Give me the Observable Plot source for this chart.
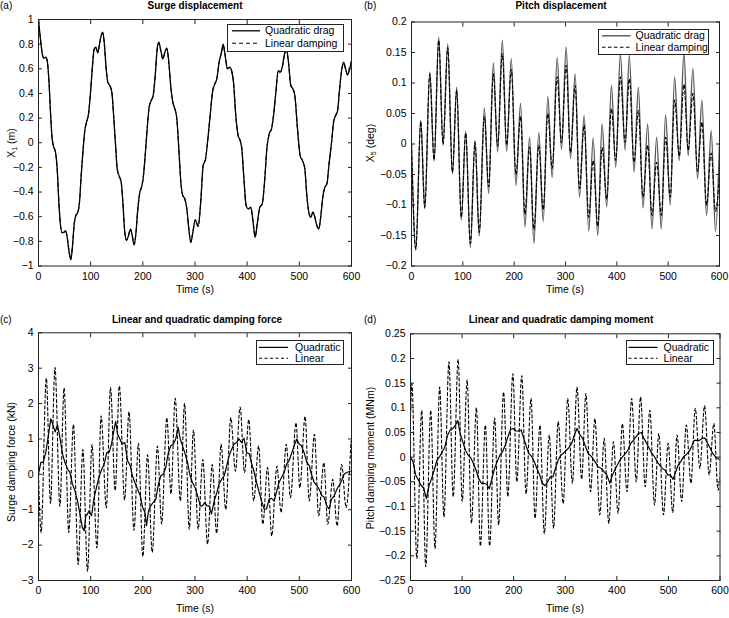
<!DOCTYPE html>
<html><head><meta charset="utf-8">
<script src="https://cdn.jsdelivr.net/npm/d3@7"></script>
<script src="https://cdn.jsdelivr.net/npm/@observablehq/plot@0.6"></script>
<style>
body{margin:0;background:#fff;}
#root{position:relative;width:729px;height:618px;overflow:hidden;font-family:"Liberation Sans",Arial,Helvetica,sans-serif;color:#000;background:#fff;}
.t{position:absolute;white-space:nowrap;font-size:10px;line-height:1;}
.t sub{font-size:7px;vertical-align:-2px;line-height:0;}
.legend{position:absolute;border:1px solid #222;background:#fff;box-sizing:border-box;}
</style></head><body><div id="root"></div>
<script>
// ---------- tick values ----------
const xTicks = [0, 100, 200, 300, 400, 500, 600];
const surgeTicks = [-1, -0.8, -0.6, -0.4, -0.2, 0, 0.2, 0.4, 0.6, 0.8, 1];
const pitchTicks = [-0.2, -0.15, -0.1, -0.05, 0, 0.05, 0.1, 0.15, 0.2];
const forceTicks = [-3, -2, -1, 0, 1, 2, 3, 4];
const momentTicks = [-0.25, -0.2, -0.15, -0.1, -0.05, 0, 0.05, 0.1, 0.15, 0.2, 0.25];

// ---------- (a) surge displacement [t, value] ----------
const surgeQuadPts = [[0,1.0],[3.8,0.84],[7.7,0.71],[10,0.686],[14,0.694],[16.6,0.667],[19.8,0.518],[23,0.248],[26.2,0.031],[29.4,-0.037],[32.6,-0.077],[35.8,-0.21],[39,-0.48],[42.2,-0.67],[45.4,-0.73],[48.6,-0.727],[51.8,-0.713],[55,-0.767],[58.8,-0.89],[62,-0.95],[65.2,-0.835],[68.4,-0.66],[71.6,-0.59],[75.4,-0.565],[78.6,-0.48],[81.8,-0.267],[85.6,-0.05],[88.8,0.1],[92,0.166],[95.9,0.234],[99.7,0.41],[103.5,0.626],[106.7,0.76],[110,0.775],[113.7,0.73],[117,0.8],[120,0.87],[123.3,0.897],[126.5,0.79],[129.7,0.6],[133,0.49],[136.7,0.464],[140.6,0.41],[144.4,0.194],[148.2,-0.05],[150.8,-0.21],[154.6,-0.27],[158.5,-0.32],[161.7,-0.48],[164.9,-0.7],[168.7,-0.794],[172.5,-0.754],[176.4,-0.70],[179.6,-0.754],[183.4,-0.83],[186.6,-0.74],[190.4,-0.537],[194.3,-0.40],[197.5,-0.36],[200.6,-0.29],[204.5,-0.104],[208.3,0.112],[212.1,0.288],[216,0.342],[219.8,0.383],[223.7,0.545],[227.5,0.762],[230.7,0.816],[234.5,0.748],[238.3,0.68],[242.2,0.735],[246,0.77],[249.8,0.653],[253.7,0.45],[257.5,0.33],[261.4,0.275],[265.2,0.194],[269,-0.05],[272.9,-0.32],[276.7,-0.43],[280.5,-0.456],[284.4,-0.537],[288.2,-0.70],[292,-0.81],[295.9,-0.727],[300.5,-0.625],[306,-0.68],[311,-0.48],[315.6,-0.185],[320,-0.137],[324,0.004],[329,0.22],[333.5,0.41],[338,0.478],[341.8,0.518],[346.3,0.654],[350.8,0.735],[354,0.80],[357.8,0.71],[362.2,0.60],[366.8,0.613],[370,0.586],[373.8,0.49],[378.2,0.22],[382.7,0.058],[386.6,0.018],[389.8,-0.05],[394.2,-0.32],[398,-0.51],[402.5,-0.537],[407,-0.524],[411.4,-0.645],[415.3,-0.767],[419.7,-0.645],[424.2,-0.524],[428.8,-0.497],[433.3,-0.32],[437.7,-0.05],[442.2,0.072],[446.7,0.112],[450.5,0.22],[455,0.41],[459.5,0.586],[463.4,0.575],[467.2,0.613],[471,0.71],[475.4,0.76],[479.2,0.654],[483.7,0.464],[487.6,0.437],[491.4,0.383],[496.5,0.112],[501.6,-0.104],[506,-0.145],[510.5,-0.21],[514.4,-0.43],[518.8,-0.578],[522,-0.605],[525.9,-0.564],[529.7,-0.605],[533.6,-0.673],[537.4,-0.70],[541.3,-0.59],[545,-0.44],[549,-0.36],[552.8,-0.334],[557.3,-0.158],[561.8,0.004],[565.6,0.166],[569.5,0.22],[573.3,0.26],[577.2,0.437],[581,0.586],[584.9,0.654],[588.7,0.60],[592.5,0.55],[596.4,0.60],[600,0.667]];
const surgeLinPts = [[0,1.0],[3.8,0.84],[7.7,0.71],[10,0.686],[14,0.694],[16.6,0.667],[19.8,0.518],[23,0.248],[26.2,0.031],[29.4,-0.037],[32.6,-0.077],[35.8,-0.21],[39,-0.48],[42.2,-0.67],[45.4,-0.73],[48.6,-0.725],[51.8,-0.712],[55,-0.765],[58.8,-0.888],[62,-0.945],[65.2,-0.833],[68.4,-0.66],[71.6,-0.59],[75.4,-0.565],[78.6,-0.48],[81.8,-0.267],[85.6,-0.05],[88.8,0.1],[92,0.166],[95.9,0.234],[99.7,0.41],[103.5,0.626],[106.7,0.758],[110,0.772],[113.7,0.73],[117,0.797],[120,0.865],[123.3,0.888],[126.5,0.785],[129.7,0.6],[133,0.49],[136.7,0.464],[140.6,0.41],[144.4,0.194],[148.2,-0.05],[150.8,-0.21],[154.6,-0.27],[158.5,-0.32],[161.7,-0.48],[164.9,-0.7],[168.7,-0.79],[172.5,-0.752],[176.4,-0.70],[179.6,-0.752],[183.4,-0.825],[186.6,-0.74],[190.4,-0.537],[194.3,-0.40],[197.5,-0.36],[200.6,-0.29],[204.5,-0.104],[208.3,0.112],[212.1,0.288],[216,0.342],[219.8,0.383],[223.7,0.545],[227.5,0.76],[230.7,0.81],[234.5,0.745],[238.3,0.68],[242.2,0.732],[246,0.765],[249.8,0.65],[253.7,0.45],[257.5,0.33],[261.4,0.275],[265.2,0.194],[269,-0.05],[272.9,-0.32],[276.7,-0.43],[280.5,-0.456],[284.4,-0.537],[288.2,-0.70],[292,-0.805],[295.9,-0.725],[300.5,-0.625],[306,-0.678],[311,-0.48],[315.6,-0.185],[320,-0.137],[324,0.004],[329,0.22],[333.5,0.41],[338,0.478],[341.8,0.518],[346.3,0.652],[350.8,0.73],[354,0.79],[357.8,0.705],[362.2,0.6],[366.8,0.61],[370,0.588],[373.8,0.49],[378.2,0.22],[382.7,0.058],[386.6,0.018],[389.8,-0.05],[394.2,-0.32],[398,-0.51],[402.5,-0.537],[407,-0.524],[411.4,-0.643],[415.3,-0.762],[419.7,-0.643],[424.2,-0.524],[428.8,-0.497],[433.3,-0.32],[437.7,-0.05],[442.2,0.072],[446.7,0.112],[450.5,0.22],[455,0.41],[459.5,0.58],[463.4,0.572],[467.2,0.605],[471,0.70],[475.4,0.745],[479.2,0.648],[483.7,0.464],[487.6,0.437],[491.4,0.383],[496.5,0.112],[501.6,-0.104],[506,-0.145],[510.5,-0.21],[514.4,-0.43],[518.8,-0.575],[522,-0.6],[525.9,-0.562],[529.7,-0.6],[533.6,-0.668],[537.4,-0.695],[541.3,-0.59],[545,-0.44],[549,-0.36],[552.8,-0.334],[557.3,-0.158],[561.8,0.004],[565.6,0.166],[569.5,0.22],[573.3,0.26],[577.2,0.437],[581,0.58],[584.9,0.645],[588.7,0.597],[592.5,0.552],[596.4,0.598],[600,0.66]];

// ---------- (b) pitch displacement: extrema times and values ----------
const pitchT = [0,8.4,18,25.8,35.6,44,53,61.5,70.6,79.7,88,97,105.6,114.7,123.7,132,141.9,150.3,159.4,167.8,176.9,185.3,194.4,203.4,212.5,220.9,230,238.4,248,256.6,265.6,274,283.8,292.2,301.3,309.7,318.8,327.2,336.3,345.3,353.8,362.8,371.3,380.3,389.4,397.8,406.9,416,424.4,433.5,441.9,451,460,468.5,477.5,486.6,495,504,512.5,521.6,530.7,539,548.2,557.2,565.7,574.7,583.8,592.2,600];
const pitchQuad = [0,-0.174,0.039,-0.106,0.118,-0.028,0.175,-0.002,0.164,-0.049,0.093,-0.125,0.021,-0.170,0.006,-0.151,0.059,-0.081,0.133,-0.013,0.170,-0.012,0.140,-0.068,0.067,-0.136,0.011,-0.163,0.019,-0.127,0.078,-0.055,0.142,-0.009,0.159,-0.024,0.115,-0.087,0.047,-0.143,0.010,-0.150,0.033,-0.103,0.096,-0.038,0.148,-0.010,0.145,-0.046,0.093,-0.105,0.033,-0.139,0.011,-0.139,0.048,-0.100,0.110,-0.027,0.150,-0.019,0.124,-0.057,0.072,-0.117,0.022,-0.143,0.0];
const pitchLin = [0,-0.172,0.037,-0.104,0.115,-0.026,0.170,0.000,0.158,-0.046,0.088,-0.120,0.018,-0.163,0.003,-0.145,0.045,-0.070,0.115,-0.003,0.148,-0.002,0.122,-0.050,0.045,-0.115,-0.005,-0.140,-0.002,-0.108,0.050,-0.040,0.110,0.002,0.129,-0.014,0.096,-0.073,0.031,-0.120,-0.027,-0.135,-0.006,-0.090,0.058,-0.027,0.110,0.003,0.107,-0.030,0.055,-0.087,-0.002,-0.117,-0.030,-0.117,0.011,-0.087,0.072,-0.020,0.098,-0.010,0.083,-0.045,0.036,-0.100,-0.015,-0.110,-0.050];

// ---------- (c) surge damping force ----------
const forceQuadPts = [[0,0],[4.5,0.34],[9,0.34],[14,0.62],[18.5,1.05],[23.6,1.57],[28,1.38],[32,1.2],[36.4,1.4],[41.5,1.0],[46,0.58],[50.5,0.34],[55.6,0.15],[60,0.06],[65,-0.27],[69.7,-0.46],[74.8,-0.75],[79,-1.08],[84,-1.5],[87.5,-1.59],[90.7,-1.17],[94,-1.12],[97,-1.03],[101.6,-1.17],[106.7,-0.65],[112,-0.32],[116,-0.08],[121.4,0.15],[126,0.29],[131,0.62],[135.5,0.62],[140,0.86],[145,1.28],[148,1.5],[151.5,1.14],[156,1.0],[160.4,0.86],[165.5,0.9],[170.6,0.39],[175.7,0.25],[180,-0.04],[184.7,-0.23],[190,-0.42],[195,-0.6],[199.4,-0.93],[204,-1.08],[207,-1.45],[211,-1.03],[215,-0.89],[220,-0.79],[225,-0.7],[230,-0.27],[234.5,-0.04],[239.6,0.01],[244,0.2],[249,0.62],[253.7,0.81],[258.8,0.86],[263,1.0],[267.7,1.33],[271.6,1.0],[276,0.81],[281,0.58],[285.6,0.34],[290.7,-0.04],[295,-0.23],[300,-0.37],[305,-0.6],[310,-0.89],[314,-0.89],[319,-0.79],[322.7,-0.89],[327,-0.89],[331.6,-1.12],[336.8,-0.75],[342,-0.51],[346,-0.27],[351.5,-0.13],[356,-0.04],[361,0.25],[365.5,0.53],[370.6,0.72],[375,0.86],[379.6,0.9],[384.7,1.0],[389,0.9],[394,1.02],[399,0.62],[404,0.58],[408,0.34],[413.4,0.06],[418,-0.23],[423,-0.51],[427.5,-0.75],[432.6,-0.98],[437,-0.98],[442,-0.7],[446.7,-0.68],[451.8,-0.75],[456,-0.51],[461,-0.23],[466,-0.08],[471,0.06],[475.4,0.29],[480.5,0.39],[485,0.58],[490,0.81],[495,1.0],[499.7,0.86],[504,0.81],[509,0.62],[514.4,0.34],[519,0.25],[523,0.01],[528.5,-0.23],[533.6,-0.32],[538,-0.42],[543,-0.6],[547.6,-0.65],[552.7,-0.89],[557,-0.98],[561.7,-0.7],[567,-0.6],[572,-0.42],[576,-0.32],[581,-0.18],[586,0.01],[592,0.06],[600,0.1]];
const forceLinT = [0,5,15,23,31.6,41,49,58,67,76,85,94,102.5,112,120,130,138,147,155,165,173.5,183,191.6,200,209,218,228,236,246,254,262,272,280,289,297,306,315,324,333,341.5,350,359,368.6,377.5,386.5,395,403,412.5,422,430,439,447,457,465,475,483,493.6,501,511,519,529,537,547,554.5,564,572.5,581,589.7,599];
const forceLin = [0,-1.64,2.72,-0.82,3.02,-0.9,2.44,-1.64,1.41,-2.55,0.7,-2.74,0.84,-2.08,1.65,-0.95,2.45,-0.46,2.5,-0.72,1.77,-1.58,0.88,-2.32,0.55,-2.2,0.8,-1.4,1.6,-0.56,2.15,-0.75,2.0,-1.55,1.25,-1.55,0.42,-1.97,0.28,-1.67,0.85,-0.99,1.6,0.09,1.9,0.05,1.55,-0.75,0.8,-1.41,0.19,-1.74,0.23,-1.08,0.85,-0.66,1.46,-0.38,1.64,-0.75,1.13,-1.17,0.33,-1.41,-0.14,-1.46,0.28,-0.94,0.94];

// ---------- (d) pitch damping moment ----------
const momentQuadPts = [[0,0],[5,-0.01],[10,-0.036],[15.4,-0.047],[20.5,-0.057],[25.7,-0.063],[30.8,-0.084],[36,-0.057],[41,-0.043],[46,-0.026],[51.4,-0.006],[56.5,0.001],[61.6,0.011],[66.8,0.021],[72,0.045],[77,0.055],[82,0.058],[87.3,0.065],[91.8,0.074],[96.3,0.048],[101.4,0.031],[106.6,0.014],[111.7,0.004],[116.8,-0.001],[122,-0.013],[127,-0.026],[132,-0.043],[137.4,-0.053],[142.5,-0.053],[147.7,-0.055],[152.8,-0.064],[158,-0.043],[163,-0.023],[168,-0.009],[173.3,0.004],[178.5,0.011],[183.6,0.024],[188.7,0.041],[194,0.056],[199,0.058],[204,0.053],[209.3,0.053],[214.4,0.055],[219.6,0.038],[224.7,0.021],[229.8,0.007],[235,0.001],[240,-0.009],[245,-0.023],[250.4,-0.036],[255.5,-0.053],[260.7,-0.058],[265.8,-0.05],[271,-0.04],[276,-0.04],[281,-0.023],[286.3,-0.006],[291.5,0.004],[296.6,0.008],[306,0.018],[312.5,0.028],[317.7,0.045],[322.8,0.058],[328.6,0.045],[333.7,0.038],[339.5,0.021],[344.6,0.007],[351,0.001],[357.5,-0.009],[364,-0.02],[370,-0.023],[375.4,-0.03],[380.6,-0.036],[386.4,-0.053],[391.5,-0.036],[396,-0.026],[401,-0.016],[406,-0.006],[411.4,0.001],[416.5,0.007],[421.7,0.014],[426.8,0.028],[432,0.034],[437,0.041],[442,0.048],[447.3,0.05],[452.5,0.038],[457.6,0.028],[462.7,0.018],[468,0.007],[473,0.001],[478,-0.009],[483,-0.016],[488,-0.023],[493.5,-0.026],[498.6,-0.036],[503.8,-0.036],[509,-0.045],[514,-0.03],[519,-0.016],[524,-0.009],[529.3,0.001],[534.4,0.005],[539.7,0.011],[544.7,0.021],[550,0.034],[555,0.034],[560,0.034],[565.5,0.038],[570.5,0.039],[575.8,0.028],[581,0.018],[586,0.007],[591,0.001],[596,-0.003],[600,-0.006]];
const momentLinPts = [[0,0.08],[2.6,0.149],[12.2,-0.205],[21.8,0.095],[29.5,-0.222],[39.2,0.095],[47.5,-0.185],[56.5,0.142],[64.8,-0.121],[74.5,0.193],[82.8,-0.08],[92.4,0.198],[100.2,-0.09],[109.8,0.156],[118.1,-0.134],[127.8,0.1],[135.5,-0.18],[145.1,0.065],[153.4,-0.18],[163.1,0.08],[170.8,-0.137],[180.4,0.132],[188.7,-0.08],[198.4,0.169],[206.1,-0.05],[215.7,0.165],[224,-0.074],[233.7,0.119],[241.4,-0.124],[251,0.065],[259.4,-0.155],[269,0.045],[277.3,-0.144],[286.3,0.072],[296,-0.094],[304.8,0.119],[313.8,-0.053],[322.8,0.142],[331.8,-0.045],[340,0.129],[349,-0.07],[357.5,0.078],[367,-0.117],[375.4,0.038],[384.4,-0.134],[393.4,0.031],[402.4,-0.114],[410.7,0.068],[419.7,-0.07],[428.7,0.119],[437.7,-0.05],[446,0.122],[455,-0.06],[464,0.095],[473,-0.097],[481.4,0.048],[490.4,-0.117],[499.4,0.028],[508.4,-0.112],[516.8,0.045],[525.7,-0.09],[534.7,0.065],[543.7,-0.053],[552,0.099],[561,-0.023],[570,0.104],[579,-0.036],[588,0.068],[596.3,-0.067],[600,-0.03]];

// ---------- helpers ----------
const FONT = '"Liberation Sans", Arial, Helvetica, sans-serif';
const root = document.getElementById("root");
const fmt = v => (v < -1e-9 ? "\u2212" : "") + String(Math.round(Math.abs(v) * 1000) / 1000);
const blank = () => "";

function txt(html, x, y, {anchor = "middle", bold = false, rotate = false, size = 10} = {}) {
  const d = document.createElement("div");
  d.className = "t";
  d.innerHTML = html;
  d.style.left = x + "px";
  d.style.top = y + "px";
  d.style.fontSize = size + "px";
  if (bold) d.style.fontWeight = "bold";
  const tx = anchor === "start" ? "0" : anchor === "end" ? "-100%" : "-50%";
  d.style.transform = `translate(${tx},-50%)` + (rotate ? " rotate(-90deg)" : "");
  root.appendChild(d);
}

function legend(x, y, w, h, rows) {
  const box = document.createElement("div");
  box.className = "legend";
  Object.assign(box.style, {left: x + "px", top: y + "px", width: w + "px", height: h + "px"});
  let s = `<svg width="${w}" height="${h}" style="position:absolute;left:-1px;top:-1px;overflow:visible">`;
  for (const r of rows) {
    s += `<line x1="${r.x1}" x2="${r.x2}" y1="${r.y}" y2="${r.y}" stroke="${r.color}" stroke-width="${r.sw}" ${r.dash ? `stroke-dasharray="${r.dash}"` : ""}/>`;
    s += `<text x="${r.tx}" y="${r.y}" dy="0.35em" font-size="10.5" font-family='${FONT}' fill="#000">${r.label}</text>`;
  }
  s += "</svg>";
  box.innerHTML = s;
  root.appendChild(box);
}

function panel({left, top, width, height, mt, mr, mb, ml, ydomain, yticks, marks}) {
  const svg = Plot.plot({
    width, height, marginTop: mt, marginRight: mr, marginBottom: mb, marginLeft: ml,
    x: {domain: [0, 600]}, y: {domain: ydomain},
    style: {fontSize: "10.5px", fontFamily: FONT, color: "#000", background: "transparent", overflow: "visible"},
    marks: [
      ...marks,
      Plot.frame({stroke: "#222", strokeWidth: 1}),
      Plot.axisX({ticks: xTicks, tickSize: -4, tickPadding: 10.5, tickFormat: fmt, label: null, stroke: "#222"}),
      Plot.axisX({anchor: "top", ticks: xTicks, tickSize: -4, tickFormat: blank, label: null, stroke: "#222"}),
      Plot.axisY({ticks: yticks, tickSize: -4, tickPadding: 9, tickFormat: fmt, label: null, stroke: "#222"}),
      Plot.axisY({anchor: "right", ticks: yticks, tickSize: -4, tickFormat: blank, label: null, stroke: "#222"})
    ]
  });
  svg.style.position = "absolute";
  svg.style.left = left + "px";
  svg.style.top = top + "px";
  root.appendChild(svg);
}

const px = d => d[0], py = d => d[1];

// (a)
panel({left: 0, top: 0, width: 364, height: 300, mt: 19, mr: 13, mb: 34.5, ml: 38,
  ydomain: [-1, 1], yticks: surgeTicks,
  marks: [
    Plot.line(surgeQuadPts, {x: px, y: py, curve: "monotone-x", stroke: "#000", strokeWidth: 1.3, clip: true}),
    Plot.line(surgeLinPts, {x: px, y: py, curve: "monotone-x", stroke: "#000", strokeWidth: 1.1, strokeDasharray: "4,3", clip: true})
  ]});
// (b)
panel({left: 364, top: 0, width: 365, height: 300, mt: 21.5, mr: 10, mb: 34.5, ml: 47,
  ydomain: [-0.2, 0.2], yticks: pitchTicks,
  marks: [
    Plot.line(pitchQuad, {x: pitchT, y: pitchQuad, curve: "monotone-x", stroke: "#555", strokeWidth: 1.4, clip: true}),
    Plot.line(pitchLin, {x: pitchT, y: pitchLin, curve: "monotone-x", stroke: "#000", strokeWidth: 1.1, strokeDasharray: "3.5,2.5", clip: true})
  ]});
// (c)
panel({left: 0, top: 305, width: 364, height: 313, mt: 27.3, mr: 13, mb: 38, ml: 38,
  ydomain: [-3, 4], yticks: forceTicks,
  marks: [
    Plot.line(forceLin, {x: forceLinT, y: forceLin, curve: "monotone-x", stroke: "#000", strokeWidth: 1.1, strokeDasharray: "3,2.5", clip: true}),
    Plot.line(forceQuadPts, {x: px, y: py, stroke: "#000", strokeWidth: 1.2, clip: true})
  ]});
// (d)
panel({left: 364, top: 305, width: 365, height: 313, mt: 28.3, mr: 9.5, mb: 38, ml: 46,
  ydomain: [-0.25, 0.25], yticks: momentTicks,
  marks: [
    Plot.line(momentLinPts, {x: px, y: py, curve: "monotone-x", stroke: "#000", strokeWidth: 1.1, strokeDasharray: "3,2.5", clip: true}),
    Plot.line(momentQuadPts, {x: px, y: py, stroke: "#000", strokeWidth: 1.2, clip: true})
  ]});

// titles, panel letters, axis labels
txt("(a)", 0, 6, {anchor: "start"});
txt("(b)", 364, 6, {anchor: "start"});
txt("(c)", 0, 320, {anchor: "start"});
txt("(d)", 364, 320, {anchor: "start"});
txt("Surge displacement", 195, 6, {bold: true});
txt("Pitch displacement", 561, 6, {bold: true});
txt("Linear and quadratic damping force", 197, 320, {bold: true});
txt("Linear and quadratic damping moment", 561, 320, {bold: true});
txt("Time (s)", 195, 289, {size: 10.5});
txt("Time (s)", 565, 289, {size: 10.5});
txt("Time (s)", 195, 608, {size: 10.5});
txt("Time (s)", 565, 608, {size: 10.5});
txt("X<sub>1</sub> (m)", 11, 143, {rotate: true, size: 10.5});
txt("X<sub>5</sub> (deg)", 370, 143, {rotate: true, size: 10.5});
txt("Surge damping force (kN)", 11, 462, {rotate: true, size: 10.5});
txt("Pitch damping moment (MNm)", 370, 458, {rotate: true, size: 10.5});

// legends
legend(227, 24, 116.5, 28, [
  {label: "Quadratic drag", y: 6.8, x1: 5, x2: 33, tx: 38, color: "#000", sw: 1.3},
  {label: "Linear damping", y: 19.2, x1: 5, x2: 33, tx: 38, color: "#000", sw: 1.1, dash: "4,3"}
]);
legend(597.5, 29, 111.5, 25.5, [
  {label: "Quadratic drag", y: 6.8, x1: 4, x2: 32.5, tx: 37.5, color: "#555", sw: 1.4},
  {label: "Linear damping", y: 18.3, x1: 4, x2: 32.5, tx: 37.5, color: "#000", sw: 1.1, dash: "3.5,2.5"}
]);
legend(256, 339.7, 88, 25.6, [
  {label: "Quadratic", y: 7.4, x1: 3, x2: 32, tx: 39, color: "#000", sw: 1.2},
  {label: "Linear", y: 18.3, x1: 3, x2: 32, tx: 39, color: "#000", sw: 1.1, dash: "3,2.5"}
]);
legend(626, 339.7, 88.3, 25.6, [
  {label: "Quadratic", y: 7.4, x1: 2.5, x2: 31.5, tx: 37.6, color: "#000", sw: 1.2},
  {label: "Linear", y: 18.3, x1: 2.5, x2: 31.5, tx: 37.6, color: "#000", sw: 1.1, dash: "3,2.5"}
]);
</script></body></html>
